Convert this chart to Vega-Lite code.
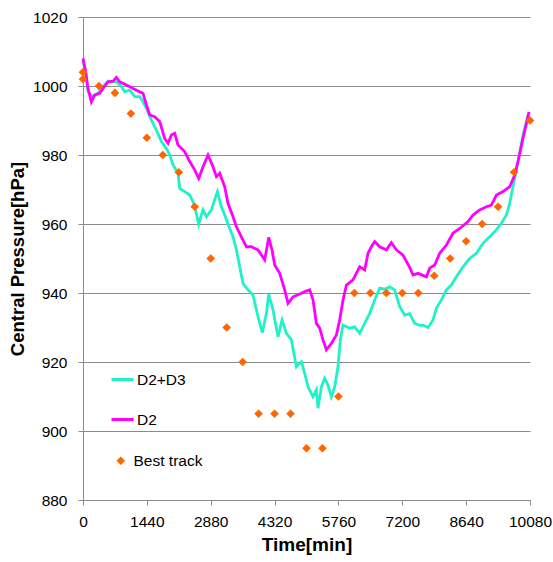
{
  "$schema": "https://vega.github.io/schema/vega-lite/v6.json",
  "usermeta": {"embedOptions": {"actions": false}},
  "autosize": {"type": "none"},
  "padding": {"left": 83, "top": 17, "right": 23, "bottom": 62},
  "width": 447,
  "height": 483,
  "background": "white",
  "config": {
    "view": {"stroke": null},
    "font": "Liberation Sans",
    "axis": {"labelFont": "Liberation Sans", "titleFont": "Liberation Sans", "labelColor": "#000000", "titleColor": "#000000"},
    "legend": {"labelFont": "Liberation Sans", "labelColor": "#000000", "labelFontSize": 15.5, "padding": 0}
  },
  "datasets": {
    "d2": [
      {"t":0,"p":1008.0},{"t":61,"p":1004.1},{"t":113,"p":999.3},{"t":189,"p":995.4},{"t":264,"p":997.4},{"t":377,"p":997.9},{"t":451,"p":999.3},{"t":564,"p":1001.2},{"t":677,"p":1001.4},{"t":753,"p":1002.5},{"t":828,"p":1001.2},{"t":1015,"p":1000.1},{"t":1128,"p":999.3},{"t":1279,"p":998.3},{"t":1353,"p":997.9},{"t":1430,"p":994.5},{"t":1504,"p":991.6},{"t":1617,"p":991.1},{"t":1730,"p":989.7},{"t":1842,"p":984.8},{"t":1917,"p":983.4},{"t":1993,"p":985.8},{"t":2068,"p":986.3},{"t":2142,"p":982.9},{"t":2293,"p":981.0},{"t":2406,"p":978.1},{"t":2519,"p":975.7},{"t":2609,"p":973.2},{"t":2706,"p":976.6},{"t":2819,"p":980.0},{"t":2932,"p":976.6},{"t":3008,"p":973.7},{"t":3083,"p":974.7},{"t":3195,"p":970.8},{"t":3270,"p":966.0},{"t":3383,"p":962.1},{"t":3459,"p":959.2},{"t":3572,"p":956.3},{"t":3685,"p":953.4},{"t":3797,"p":953.4},{"t":3947,"p":952.5},{"t":4097,"p":949.6},{"t":4188,"p":956.1},{"t":4262,"p":952.5},{"t":4323,"p":948.1},{"t":4436,"p":945.7},{"t":4548,"p":940.9},{"t":4623,"p":937.0},{"t":4736,"p":938.9},{"t":4887,"p":939.7},{"t":5000,"p":940.4},{"t":5112,"p":940.9},{"t":5187,"p":938.0},{"t":5263,"p":931.2},{"t":5338,"p":929.8},{"t":5412,"p":926.4},{"t":5489,"p":923.5},{"t":5601,"p":925.4},{"t":5714,"p":927.8},{"t":5789,"p":932.2},{"t":5863,"p":938.0},{"t":5940,"p":942.3},{"t":6089,"p":943.8},{"t":6240,"p":947.6},{"t":6352,"p":946.7},{"t":6427,"p":951.5},{"t":6503,"p":953.4},{"t":6578,"p":954.9},{"t":6691,"p":953.4},{"t":6841,"p":952.5},{"t":6954,"p":954.6},{"t":7067,"p":952.5},{"t":7216,"p":951.0},{"t":7367,"p":947.4},{"t":7442,"p":945.2},{"t":7555,"p":945.7},{"t":7744,"p":944.7},{"t":7818,"p":947.2},{"t":7931,"p":948.1},{"t":8043,"p":951.5},{"t":8195,"p":953.9},{"t":8344,"p":957.3},{"t":8495,"p":958.7},{"t":8682,"p":960.7},{"t":8795,"p":962.6},{"t":8945,"p":964.1},{"t":9097,"p":965.0},{"t":9209,"p":965.5},{"t":9322,"p":968.4},{"t":9471,"p":969.4},{"t":9622,"p":970.8},{"t":9735,"p":974.2},{"t":9809,"p":978.1},{"t":9922,"p":984.8},{"t":10058,"p":992.5}
    ],
    "d23": [
      {"t":0,"p":1007.5},{"t":61,"p":1003.5},{"t":113,"p":998.5},{"t":135,"p":998.0},{"t":226,"p":996.9},{"t":338,"p":997.9},{"t":451,"p":999.8},{"t":564,"p":1001.4},{"t":753,"p":1001.2},{"t":866,"p":999.8},{"t":940,"p":998.3},{"t":1053,"p":998.8},{"t":1166,"p":996.9},{"t":1279,"p":996.9},{"t":1353,"p":995.4},{"t":1430,"p":993.5},{"t":1542,"p":990.1},{"t":1655,"p":987.2},{"t":1768,"p":983.9},{"t":1881,"p":981.9},{"t":1955,"p":980.0},{"t":2030,"p":977.1},{"t":2142,"p":974.7},{"t":2181,"p":970.3},{"t":2293,"p":969.4},{"t":2406,"p":968.4},{"t":2480,"p":966.5},{"t":2519,"p":965.0},{"t":2609,"p":960.0},{"t":2706,"p":964.1},{"t":2782,"p":962.1},{"t":2895,"p":964.1},{"t":3031,"p":969.4},{"t":3121,"p":965.0},{"t":3211,"p":962.1},{"t":3308,"p":958.7},{"t":3383,"p":956.3},{"t":3459,"p":952.5},{"t":3534,"p":947.6},{"t":3608,"p":942.8},{"t":3721,"p":940.9},{"t":3834,"p":939.4},{"t":3947,"p":933.1},{"t":4045,"p":928.5},{"t":4136,"p":934.1},{"t":4188,"p":939.7},{"t":4285,"p":935.1},{"t":4398,"p":927.3},{"t":4488,"p":932.2},{"t":4587,"p":928.3},{"t":4699,"p":926.4},{"t":4812,"p":918.6},{"t":4887,"p":919.6},{"t":4925,"p":920.1},{"t":5000,"p":916.7},{"t":5074,"p":912.8},{"t":5187,"p":909.9},{"t":5263,"p":911.9},{"t":5299,"p":906.6},{"t":5376,"p":912.8},{"t":5450,"p":915.3},{"t":5525,"p":913.3},{"t":5601,"p":909.9},{"t":5676,"p":912.8},{"t":5750,"p":918.6},{"t":5804,"p":926.4},{"t":5863,"p":930.7},{"t":6014,"p":929.8},{"t":6127,"p":930.2},{"t":6240,"p":928.3},{"t":6352,"p":931.2},{"t":6465,"p":934.1},{"t":6578,"p":938.0},{"t":6691,"p":941.4},{"t":6803,"p":941.1},{"t":6916,"p":941.8},{"t":7029,"p":940.9},{"t":7142,"p":936.0},{"t":7254,"p":933.6},{"t":7367,"p":934.0},{"t":7480,"p":931.2},{"t":7593,"p":930.6},{"t":7667,"p":930.7},{"t":7780,"p":930.0},{"t":7893,"p":932.2},{"t":7969,"p":935.6},{"t":8082,"p":938.0},{"t":8195,"p":940.9},{"t":8307,"p":942.3},{"t":8420,"p":944.7},{"t":8569,"p":947.6},{"t":8720,"p":950.0},{"t":8871,"p":951.5},{"t":9020,"p":954.4},{"t":9171,"p":956.3},{"t":9322,"p":958.3},{"t":9435,"p":960.2},{"t":9548,"p":962.6},{"t":9622,"p":966.0},{"t":9697,"p":970.8},{"t":9773,"p":975.7},{"t":9847,"p":980.5},{"t":9922,"p":985.8},{"t":10035,"p":991.6}
    ],
    "best": [
      {"t":0,"p":1004},{"t":0,"p":1002},{"t":360,"p":1000},{"t":720,"p":998},{"t":1080,"p":992},{"t":1440,"p":985},{"t":1800,"p":980},{"t":2160,"p":975},{"t":2520,"p":965},{"t":2880,"p":950},{"t":3240,"p":930},{"t":3600,"p":920},{"t":3960,"p":905},{"t":4320,"p":905},{"t":4680,"p":905},{"t":5040,"p":895},{"t":5400,"p":895},{"t":5760,"p":910},{"t":6120,"p":940},{"t":6480,"p":940},{"t":6840,"p":940},{"t":7200,"p":940},{"t":7560,"p":940},{"t":7920,"p":945},{"t":8280,"p":950},{"t":8640,"p":955},{"t":9000,"p":960},{"t":9360,"p":965},{"t":9720,"p":975},{"t":10080,"p":990}
    ]
  },
  "encoding": {
    "x": {
      "field": "t", "type": "quantitative",
      "scale": {"domain": [0, 10080], "nice": false, "zero": false},
      "axis": {
        "title": "Time[min]", "values": [0,1440,2880,4320,5760,7200,8640,10080], "format": "d",
        "grid": false, "domainColor": "#8C8C8C", "tickColor": "#8C8C8C", "tickSize": 5,
        "labelFontSize": 15.5, "labelPadding": 9, "labelFlush": false,
        "titleFontSize": 19, "titleFontWeight": "bold", "titlePadding": 6
      }
    },
    "y": {
      "field": "p", "type": "quantitative",
      "scale": {"domain": [880, 1020], "nice": false, "zero": false},
      "axis": {
        "title": "Central Pressure[hPa]", "values": [880,900,920,940,960,980,1000,1020], "format": "d",
        "grid": true, "gridColor": "#8C8C8C", "gridWidth": 1,
        "domainColor": "#8C8C8C", "tickColor": "#8C8C8C", "tickSize": 5,
        "labelFontSize": 15.5, "labelPadding": 11,
        "titleFontSize": 18.5, "titleFontWeight": "bold", "titlePadding": 5
      }
    }
  },
  "layer": [
    {
      "data": {"name": "d23"},
      "transform": [{"calculate": "'D2+D3'", "as": "s"}],
      "mark": {"type": "line", "strokeWidth": 2.8},
      "encoding": {
        "color": {
          "field": "s", "type": "nominal",
          "scale": {"domain": ["D2+D3", "D2"], "range": ["#1FF2C8", "#FF00FF"]},
          "legend": {
            "title": null, "orient": "none", "legendX": 27, "legendY": 350,
            "symbolType": "stroke", "symbolSize": 484, "symbolStrokeWidth": 3,
            "rowPadding": 19, "labelOffset": 2
          }
        }
      }
    },
    {
      "data": {"name": "d2"},
      "transform": [{"calculate": "'D2'", "as": "s"}],
      "mark": {"type": "line", "strokeWidth": 2.8},
      "encoding": {
        "color": {"field": "s", "type": "nominal"}
      }
    },
    {
      "data": {"name": "best"},
      "transform": [{"calculate": "'Best track'", "as": "s"}],
      "mark": {"type": "point", "filled": true, "size": 75, "opacity": 1, "color": "#FF6600"},
      "encoding": {
        "shape": {
          "field": "s", "type": "nominal",
          "scale": {"domain": ["Best track"], "range": ["diamond"]},
          "legend": {
            "title": null, "orient": "none", "legendX": 30, "legendY": 436,
            "symbolSize": 75, "symbolFillColor": "#FF6600", "symbolStrokeColor": "#FF6600", "symbolStrokeWidth": 0,
            "labelOffset": 5
          }
        }
      }
    }
  ],
  "resolve": {"legend": {"shape": "independent", "color": "independent"}}
}
